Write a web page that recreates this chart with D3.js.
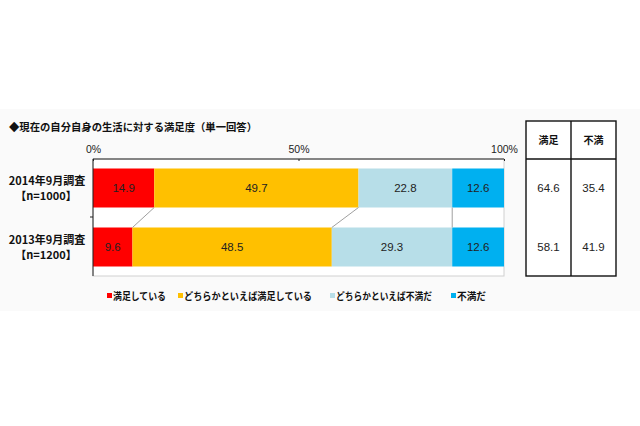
<!DOCTYPE html>
<html><head><meta charset="utf-8">
<script src="https://cdn.jsdelivr.net/npm/d3@7"></script>
<style>
html,body{margin:0;padding:0;background:#fff;}
svg{display:block;font-family:"Noto Sans CJK JP","Noto Sans",sans-serif;}
</style></head>
<body><svg id="c" width="640" height="426"></svg>
<script>
const title = "◆現在の自分自身の生活に対する満足度（単一回答）";
const categories = ["2014年9月調査", "2013年9月調査"];
const sampleLabels = ["【n=1000】", "【n=1200】"];
const seriesNames = ["満足している", "どちらかといえば満足している", "どちらかといえば不満だ", "不満だ"];
const seriesColors = ["#FF0000", "#FFC000", "#B7DEE8", "#00B0F0"];
const satisfied = [14.9, 9.6];
const ratherSatisfied = [49.7, 48.5];
const ratherDissatisfied = [22.8, 29.3];
const dissatisfied = [12.6, 12.6];
const tickValues = [0, 50, 100];
const tickLabels = ["0%", "50%", "100%"];
const tableHeaders = ["満足", "不満"];
const tableSatisfied = [64.6, 58.1];
const tableDissatisfied = [35.4, 41.9];

const numFont = "'Liberation Sans',Arial,sans-serif";
const seriesValues = [satisfied, ratherSatisfied, ratherDissatisfied, dissatisfied];
const rows = categories.map((c, i) => {
  const r = {cat: c};
  seriesNames.forEach((s, j) => r[s] = seriesValues[j][i]);
  return r;
});
const stack = d3.stack().keys(seriesNames)(rows);

const svg = d3.select("#c");
svg.append("rect").attr("x", 0).attr("y", 109).attr("width", 640).attr("height", 202).attr("fill", "#fafafa");

const x = d3.scaleLinear().domain([0, 100]).range([93, 504]);
const y = d3.scaleBand().domain(categories).range([159, 276]).paddingInner(0.339).paddingOuter(0.161);

svg.append("rect").attr("x", x(0)).attr("y", 159).attr("width", x(100) - x(0)).attr("height", 117)
  .attr("fill", "#fff").attr("stroke", "#d0d0d0").attr("stroke-width", 1);

svg.append("text").attr("x", 9).attr("y", 131).attr("font-size", 10.6).attr("font-weight", "bold")
  .attr("fill", "#111").attr("textLength", 248).attr("lengthAdjust", "spacingAndGlyphs").text(title);

const g = svg.append("g");
stack.forEach((layer, j) => {
  g.selectAll(null).data(layer).enter().append("rect")
    .attr("x", d => x(d[0])).attr("y", d => y(d.data.cat))
    .attr("width", d => x(d[1]) - x(d[0])).attr("height", y.bandwidth())
    .attr("fill", seriesColors[j]);
  g.selectAll(null).data(layer).enter().append("text")
    .attr("x", d => (x(d[0]) + x(d[1])) / 2).attr("y", d => y(d.data.cat) + y.bandwidth() / 2 + 4)
    .attr("text-anchor", "middle").attr("font-size", 11.5).attr("font-family", numFont).attr("fill", "#222")
    .text(d => (d[1] - d[0]).toFixed(1));
});

for (let j = 0; j < stack.length - 1; j++) {
  const a = stack[j][0], b = stack[j][1];
  svg.append("line")
    .attr("x1", x(a[1])).attr("y1", y(categories[0]) + y.bandwidth())
    .attr("x2", x(b[1])).attr("y2", y(categories[1]))
    .attr("stroke", "#a0a0a0").attr("stroke-width", 1);
}

const xAxis = d3.axisTop(x).tickValues(tickValues).tickFormat((d, i) => tickLabels[i]).tickSize(-2).tickPadding(6);
const ax = svg.append("g").attr("transform", "translate(0,159)").call(xAxis);
ax.select(".domain").attr("stroke", "#222").attr("d", `M${x(0)},0H${x(100)}`);
ax.selectAll(".tick line").attr("stroke", "#222");
ax.selectAll(".tick text").attr("font-size", 10.5).attr("fill", "#222")
  .attr("font-family", numFont).attr("dy", "0");
svg.append("line").attr("x1", x(0)).attr("x2", x(0)).attr("y1", 159).attr("y2", 276).attr("stroke", "#222");
svg.append("line").attr("x1", x(0) - 3).attr("x2", x(0)).attr("y1", 217).attr("y2", 217).attr("stroke", "#222");

categories.forEach((c, i) => {
  const cy = y(c) + y.bandwidth() / 2;
  svg.append("text").attr("x", 47).attr("y", cy - 3).attr("text-anchor", "middle")
    .attr("font-size", 11).attr("font-weight", "bold").attr("fill", "#111").text(c);
  svg.append("text").attr("x", 46).attr("y", cy + 12).attr("text-anchor", "middle")
    .attr("font-size", 11).attr("font-weight", "bold").attr("fill", "#111").text(sampleLabels[i]);
});

const tx = d3.scaleBand().domain(tableHeaders).range([526, 616]);
const tbl = svg.append("g");
tbl.append("rect").attr("x", 526).attr("y", 121).attr("width", 90).attr("height", 155)
  .attr("fill", "#fff").attr("stroke", "#111").attr("stroke-width", 1.4);
tbl.append("line").attr("x1", 526).attr("x2", 616).attr("y1", 159).attr("y2", 159).attr("stroke", "#111").attr("stroke-width", 1.4);
tbl.append("line").attr("x1", tx(tableHeaders[1])).attr("x2", tx(tableHeaders[1])).attr("y1", 121).attr("y2", 276).attr("stroke", "#111").attr("stroke-width", 1.4);
tableHeaders.forEach(h => {
  tbl.append("text").attr("x", tx(h) + tx.bandwidth() / 2).attr("y", 144).attr("text-anchor", "middle")
    .attr("font-size", 10).attr("font-weight", "bold").attr("fill", "#111").text(h);
});
const tableCols = [tableSatisfied, tableDissatisfied];
categories.forEach((c, i) => {
  tableHeaders.forEach((h, k) => {
    tbl.append("text").attr("x", tx(h) + tx.bandwidth() / 2).attr("y", y(c) + y.bandwidth() / 2 + 4)
      .attr("text-anchor", "middle").attr("font-size", 11.5).attr("font-family", numFont).attr("fill", "#222")
      .text(tableCols[k][i].toFixed(1));
  });
});

const legendX = [107, 178, 330, 451];
const legendW = [53, 128, 96, 29];
seriesNames.forEach((s, j) => {
  svg.append("rect").attr("x", legendX[j]).attr("y", 293).attr("width", 5).attr("height", 5).attr("fill", seriesColors[j]);
  svg.append("text").attr("x", legendX[j] + 6).attr("y", 299.5).attr("font-size", 10).attr("font-weight", "bold")
    .attr("fill", "#111").attr("textLength", legendW[j]).attr("lengthAdjust", "spacingAndGlyphs").text(s);
});
</script></body></html>
